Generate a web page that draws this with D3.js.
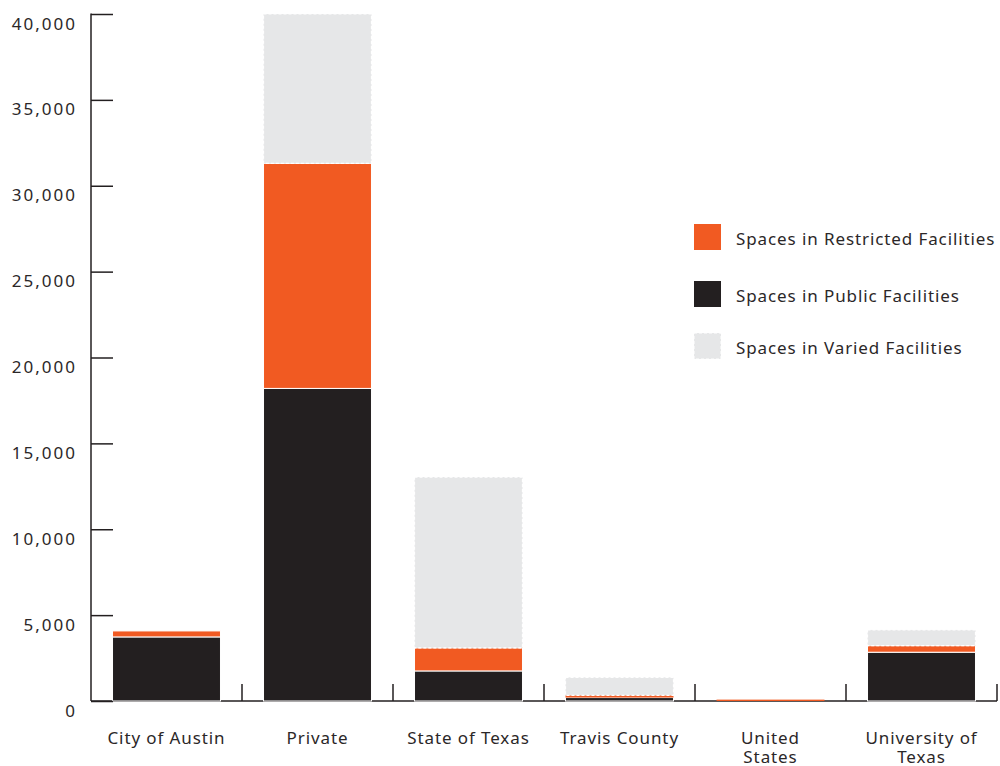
<!DOCTYPE html>
<html>
<head>
<meta charset="utf-8">
<script src="https://cdn.jsdelivr.net/npm/d3@7"></script>
<style>
  html, body { margin: 0; padding: 0; background: #fff; }
  svg { display: block; }
  text { font-family: "Noto Sans", "Open Sans", sans-serif; fill: #2b2728; letter-spacing: 0.9px; }
  .ylab { letter-spacing: 2px; }
</style>
</head>
<body>
<svg id="chart" width="1000" height="766"></svg>
<script>
const categories = ["City of Austin", "Private", "State of Texas", "Travis County", "United States", "University of Texas"];
const categoryLabels = [["City of Austin"], ["Private"], ["State of Texas"], ["Travis County"], ["United", "States"], ["University of", "Texas"]];
const publicSpaces = [3730, 18200, 1750, 200, 0, 2840];
const restrictedSpaces = [350, 13100, 1340, 130, 80, 380];
const variedSpaces = [0, 8700, 9950, 1050, 0, 920];
const seriesKeys = ["public", "restricted", "varied"];
const seriesNames = { restricted: "Spaces in Restricted Facilities", public: "Spaces in Public Facilities", varied: "Spaces in Varied Facilities" };
const legendOrder = ["restricted", "public", "varied"];
const yTicks = [0, 5000, 10000, 15000, 20000, 25000, 30000, 35000, 40000];

const colors = { public: "#231F20", restricted: "#F15A22", varied: "#E6E7E8" };
const FS = "17px";

const svg = d3.select("#chart");
const mLeft = 91, mRight = 997, mTop = 14, mBottom = 701;

const rows = categories.map((c, i) => ({ cat: c, public: publicSpaces[i], restricted: restrictedSpaces[i], varied: variedSpaces[i] }));

const x = d3.scaleBand().domain(categories).range([mLeft, mRight]).paddingInner(0.285).paddingOuter(0.1425);
const y = d3.scaleLinear().domain([0, 40000]).range([mBottom, mTop]);

const stack = d3.stack().keys(seriesKeys)(rows);

// x axis baseline + boundary ticks
const step = x.step();
const boundaries = categories.map(c => x(c) + x.bandwidth() + step * x.paddingInner() / 2);
svg.append("line").attr("x1", mLeft).attr("x2", mRight).attr("y1", mBottom).attr("y2", mBottom)
  .attr("stroke", "#231F20").attr("stroke-width", 1.5);
svg.append("g").selectAll("line").data(boundaries).join("line")
  .attr("x1", d => d).attr("x2", d => d).attr("y1", mBottom).attr("y2", mBottom - 17)
  .attr("stroke", "#231F20").attr("stroke-width", 1.5);

// bars
const layers = svg.append("g").selectAll("g").data(stack).join("g")
  .attr("fill", d => colors[d.key]);
layers.selectAll("rect").data(d => d.map(p => ({ key: d.key, p })).filter(e => e.p[1] - e.p[0] > 0)).join("rect")
  .attr("x", d => x(d.p.data.cat))
  .attr("width", x.bandwidth())
  .attr("y", d => y(d.p[1]))
  .attr("height", d => Math.max(1, y(d.p[0]) - y(d.p[1])))
  .attr("stroke", d => (y(d.p[0]) - y(d.p[1])) < 3 ? "none" : "#fff")
  .attr("stroke-width", d => d.key === "varied" ? 1.2 : 1)
  .attr("stroke-dasharray", d => d.key === "varied" ? "3,2" : null);

// y axis
const yAxis = d3.axisRight(y).tickValues(yTicks).tickSize(22).tickFormat("");
const ya = svg.append("g").attr("transform", `translate(${mLeft},0)`).call(yAxis);
ya.select(".domain").remove();
ya.selectAll(".tick line").attr("stroke", "#231F20").attr("stroke-width", 1.5);
svg.append("line").attr("x1", mLeft).attr("x2", mLeft).attr("y1", mTop - 0.5).attr("y2", mBottom)
  .attr("stroke", "#231F20").attr("stroke-width", 1.5);

svg.append("g").selectAll("text").data(yTicks).join("text")
  .attr("class", "ylab")
  .attr("x", 77).attr("y", d => y(d) + 15.5)
  .attr("text-anchor", "end")
  .style("font-size", FS)
  .text(d => d3.format(",")(d));

// category labels (one text element per line)
const labelLines = [];
categories.forEach((c, i) => categoryLabels[i].forEach((t, j) => labelLines.push({ cat: c, text: t, line: j })));
svg.append("g").selectAll("text").data(labelLines).join("text")
  .attr("text-anchor", "middle")
  .attr("x", d => x(d.cat) + x.bandwidth() / 2)
  .attr("y", d => 743.5 + d.line * 19.5)
  .style("font-size", FS)
  .text(d => d.text);

// legend
const legend = svg.append("g").selectAll("g").data(legendOrder).join("g")
  .attr("transform", (d, i) => `translate(694,${[224, 281, 333][i]})`);
legend.append("rect").attr("width", 27).attr("height", 26)
  .attr("fill", d => colors[d])
  .attr("stroke", d => d === "varied" ? "#fff" : "none")
  .attr("stroke-dasharray", d => d === "varied" ? "3,2" : null);
legend.append("text").attr("x", 42).attr("y", 20.5)
  .style("font-size", FS)
  .text(d => seriesNames[d]);
</script>
</body>
</html>
